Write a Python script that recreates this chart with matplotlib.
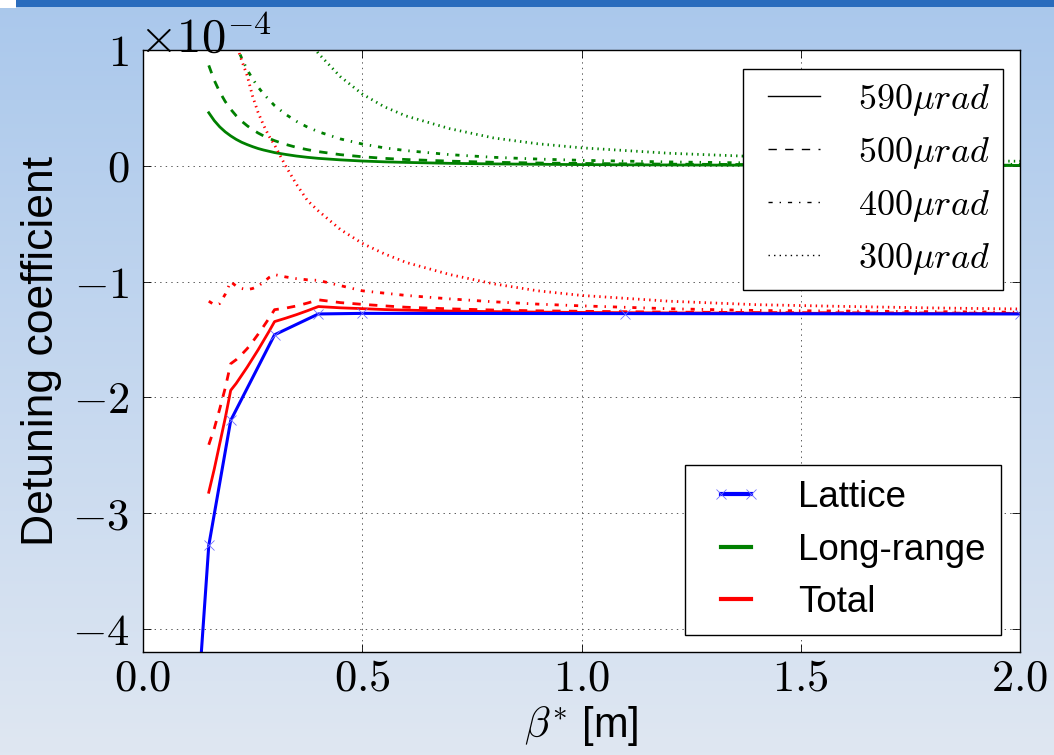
import numpy as np
import matplotlib
matplotlib.use('Agg')
import matplotlib.pyplot as plt
from matplotlib.ticker import FuncFormatter, FixedLocator
from matplotlib.lines import Line2D
from matplotlib.patches import Rectangle
from matplotlib.legend_handler import HandlerLine2D

plt.rcParams['font.family'] = ['Liberation Sans', 'DejaVu Sans']
plt.rcParams['mathtext.fontset'] = 'cm'
plt.rcParams['lines.scale_dashes'] = False

# ---------------- data (detuning coefficient in units of 1e-4) ----------------
beta_lattice = [0.10, 0.15, 0.20, 0.30, 0.40, 0.50, 1.10, 2.00]
lattice = [-6.0, -3.28, -2.20, -1.46, -1.28, -1.275, -1.277, -1.28]

beta = [0.15, 0.1625, 0.175, 0.1875, 0.20, 0.2125, 0.225, 0.2375, 0.25, 0.2625,
        0.275, 0.2875, 0.30, 0.325, 0.35, 0.375, 0.40, 0.45, 0.50, 0.55,
        0.60, 0.70, 0.80, 0.90, 1.00, 1.20, 1.40, 1.60, 1.80, 2.00]

longrange_590 = [0.458, 0.390, 0.336, 0.293, 0.258, 0.228, 0.203, 0.183, 0.165, 0.149,
                 0.136, 0.125, 0.114, 0.098, 0.084, 0.073, 0.064, 0.051, 0.041, 0.034,
                 0.029, 0.021, 0.016, 0.013, 0.010, 0.007, 0.005, 0.004, 0.003, 0.003]
longrange_500 = [0.867, 0.738, 0.637, 0.555, 0.488, 0.432, 0.385, 0.346, 0.312, 0.283,
                 0.258, 0.236, 0.217, 0.185, 0.159, 0.139, 0.122, 0.096, 0.078, 0.064,
                 0.054, 0.040, 0.030, 0.024, 0.020, 0.014, 0.010, 0.008, 0.006, 0.005]
longrange_400 = [2.09, 1.78, 1.53, 1.34, 1.18, 1.04, 0.93, 0.83, 0.75, 0.68,
                 0.62, 0.57, 0.52, 0.445, 0.384, 0.334, 0.294, 0.232, 0.188, 0.155,
                 0.131, 0.096, 0.073, 0.058, 0.047, 0.033, 0.024, 0.018, 0.015, 0.012]
longrange_300 = [6.9, 5.87, 5.06, 4.41, 3.88, 3.43, 3.06, 2.75, 2.48, 2.25,
                 2.05, 1.88, 1.72, 1.47, 1.27, 1.10, 0.97, 0.77, 0.62, 0.51,
                 0.43, 0.32, 0.24, 0.19, 0.155, 0.108, 0.079, 0.061, 0.048, 0.039]

total_590 = [-2.82, -2.62, -2.40, -2.18, -1.94, -1.88, -1.81, -1.74, -1.665, -1.59,
             -1.51, -1.43, -1.346, -1.317, -1.286, -1.252, -1.216, -1.227, -1.234, -1.242,
             -1.247, -1.255, -1.26, -1.264, -1.267, -1.271, -1.273, -1.275, -1.277, -1.277]
total_500 = [-2.41, -2.27, -2.10, -1.92, -1.71, -1.675, -1.63, -1.58, -1.52, -1.455,
             -1.387, -1.317, -1.243, -1.23, -1.211, -1.186, -1.158, -1.182, -1.197, -1.21,
             -1.222, -1.236, -1.246, -1.253, -1.257, -1.264, -1.268, -1.27, -1.272, -1.275]
total_400 = [-1.17, -1.20, -1.19, -1.11, -1.00, -1.04, -1.06, -1.07, -1.06, -1.04,
             -1.005, -0.965, -0.94, -0.96, -0.975, -0.985, -0.99, -1.035, -1.08, -1.10,
             -1.12, -1.15, -1.175, -1.195, -1.21, -1.235, -1.25, -1.255, -1.26, -1.265]
total_300 = [3.0, 2.5, 2.0, 1.6, 1.2, 1.05, 0.91, 0.78, 0.60, 0.46,
             0.35, 0.255, 0.18, 0.0, -0.16, -0.30, -0.39, -0.55, -0.67, -0.76,
             -0.835, -0.94, -1.02, -1.08, -1.12, -1.17, -1.20, -1.215, -1.228, -1.237]

angle_labels = [r'$590\mu rad$', r'$500\mu rad$', r'$400\mu rad$', r'$300\mu rad$']
longrange_series = [longrange_590, longrange_500, longrange_400, longrange_300]
total_series = [total_590, total_500, total_400, total_300]
component_labels = ['Lattice', 'Long-range', 'Total']

x_ticks = [0.0, 0.5, 1.0, 1.5, 2.0]
y_ticks = [-4, -3, -2, -1, 0, 1]

# ---------------- styles ----------------
line_styles = ['-', (0, (6, 6)), (0, (3, 5, 1, 5)), (0, (1, 3))]
c_lat, c_lr, c_tot = '#0000ff', '#008000', '#ff0000'

W, H = 1054, 755
fig = plt.figure(figsize=(W / 100, H / 100), dpi=100)

# slide background gradient
bg = fig.add_axes([0, 0, 1, 1], zorder=-10)
top_c = np.array([0.667, 0.784, 0.925])
bot_c = np.array([0.875, 0.906, 0.949])
t = np.linspace(0, 1, 256)[:, None]
grad = (top_c[None, :] * (1 - t) + bot_c[None, :] * t)[:, None, :]
bg.imshow(grad, aspect='auto', extent=[0, 1, 0, 1], origin='upper')
bg.set_xlim(0, 1); bg.set_ylim(0, 1)
bg.axis('off')
bg.add_patch(Rectangle((0, 1 - 7 / H), 1, 7 / H, color='#2a6cbd', lw=0))
bg.add_patch(Rectangle((0, 1 - 8 / H), 16 / W, 8 / H, color='white', lw=0))

ax = fig.add_axes([143 / W, (H - 652) / H, (1020 - 143) / W, (652 - 50) / H])
ax.set_facecolor('white')

for lr, tot, ls in zip(longrange_series, total_series, line_styles):
    ax.plot(beta, lr, color=c_lr, lw=2, linestyle=ls)
    ax.plot(beta, tot, color=c_tot, lw=2, linestyle=ls)
ax.plot(beta_lattice, lattice, color=c_lat, lw=2.2, marker='x', ms=7, mew=0.6,
        mec='#6f6fff')

ax.set_xlim(0, 2.0)
ax.set_ylim(-4.2, 1.0)
ax.xaxis.set_major_locator(FixedLocator(x_ticks))
ax.yaxis.set_major_locator(FixedLocator(y_ticks))
ax.xaxis.set_major_formatter(FuncFormatter(lambda v, p: r'$%.1f$' % v))
ax.yaxis.set_major_formatter(FuncFormatter(lambda v, p: r'$%d$' % round(v)))
ax.tick_params(direction='in', top=True, right=True, length=6, width=0.6,
               labelsize=32)
ax.tick_params(axis='x', pad=5)
ax.tick_params(axis='y', pad=10)
for s in ax.spines.values():
    s.set_linewidth(1.0)
    s.set_color('k')
ax.grid(True, color='0.35', lw=0.7, linestyle=(0, (1, 3)))

ax.text(-0.004, 0.995, r'$\times10^{-4}$', transform=ax.transAxes,
        ha='left', va='baseline', fontsize=35)

ax.set_ylabel('Detuning coefficient', fontsize=32)
ax.yaxis.set_label_coords(-0.092, 0.5)
ax.set_xlabel(r'$\beta^{*}$ [m]', fontsize=30)
ax.xaxis.set_label_coords(0.5, -0.087)
ax.xaxis.label.set_va('top')

# legends
F1 = 26
h1 = [Line2D([], [], color='k', lw=1, linestyle=ls) for ls in line_styles]
leg1 = ax.legend(h1, angle_labels, loc='upper right', bbox_to_anchor=(0.9806, 0.9684),
                 borderaxespad=0, fontsize=F1, handlelength=1.77, handletextpad=1.05,
                 labelspacing=0.47, borderpad=0.36, fancybox=False, framealpha=1,
                 edgecolor='k', handler_map={Line2D: HandlerLine2D(xpad=0.33)})
leg1.get_frame().set_linewidth(1.0)
ax.add_artist(leg1)

F2 = 26.5
h2 = [Line2D([], [], color=c_lat, lw=3, marker='x', ms=7, mew=0.6, mec='#6f6fff'),
      Line2D([], [], color=c_lr, lw=3),
      Line2D([], [], color=c_tot, lw=3)]
leg2 = ax.legend(h2, component_labels, loc='lower right', bbox_to_anchor=(0.978, 0.0282),
                 borderaxespad=0, fontsize=F2, handlelength=1.68, handletextpad=1.0,
                 labelspacing=0.48, borderpad=0.40, fancybox=False, framealpha=1,
                 edgecolor='k',
                 handler_map={Line2D: HandlerLine2D(xpad=0.27, numpoints=2)})
leg2.get_frame().set_linewidth(1.0)

fig.savefig('out.png', dpi=100, facecolor=fig.get_facecolor())
